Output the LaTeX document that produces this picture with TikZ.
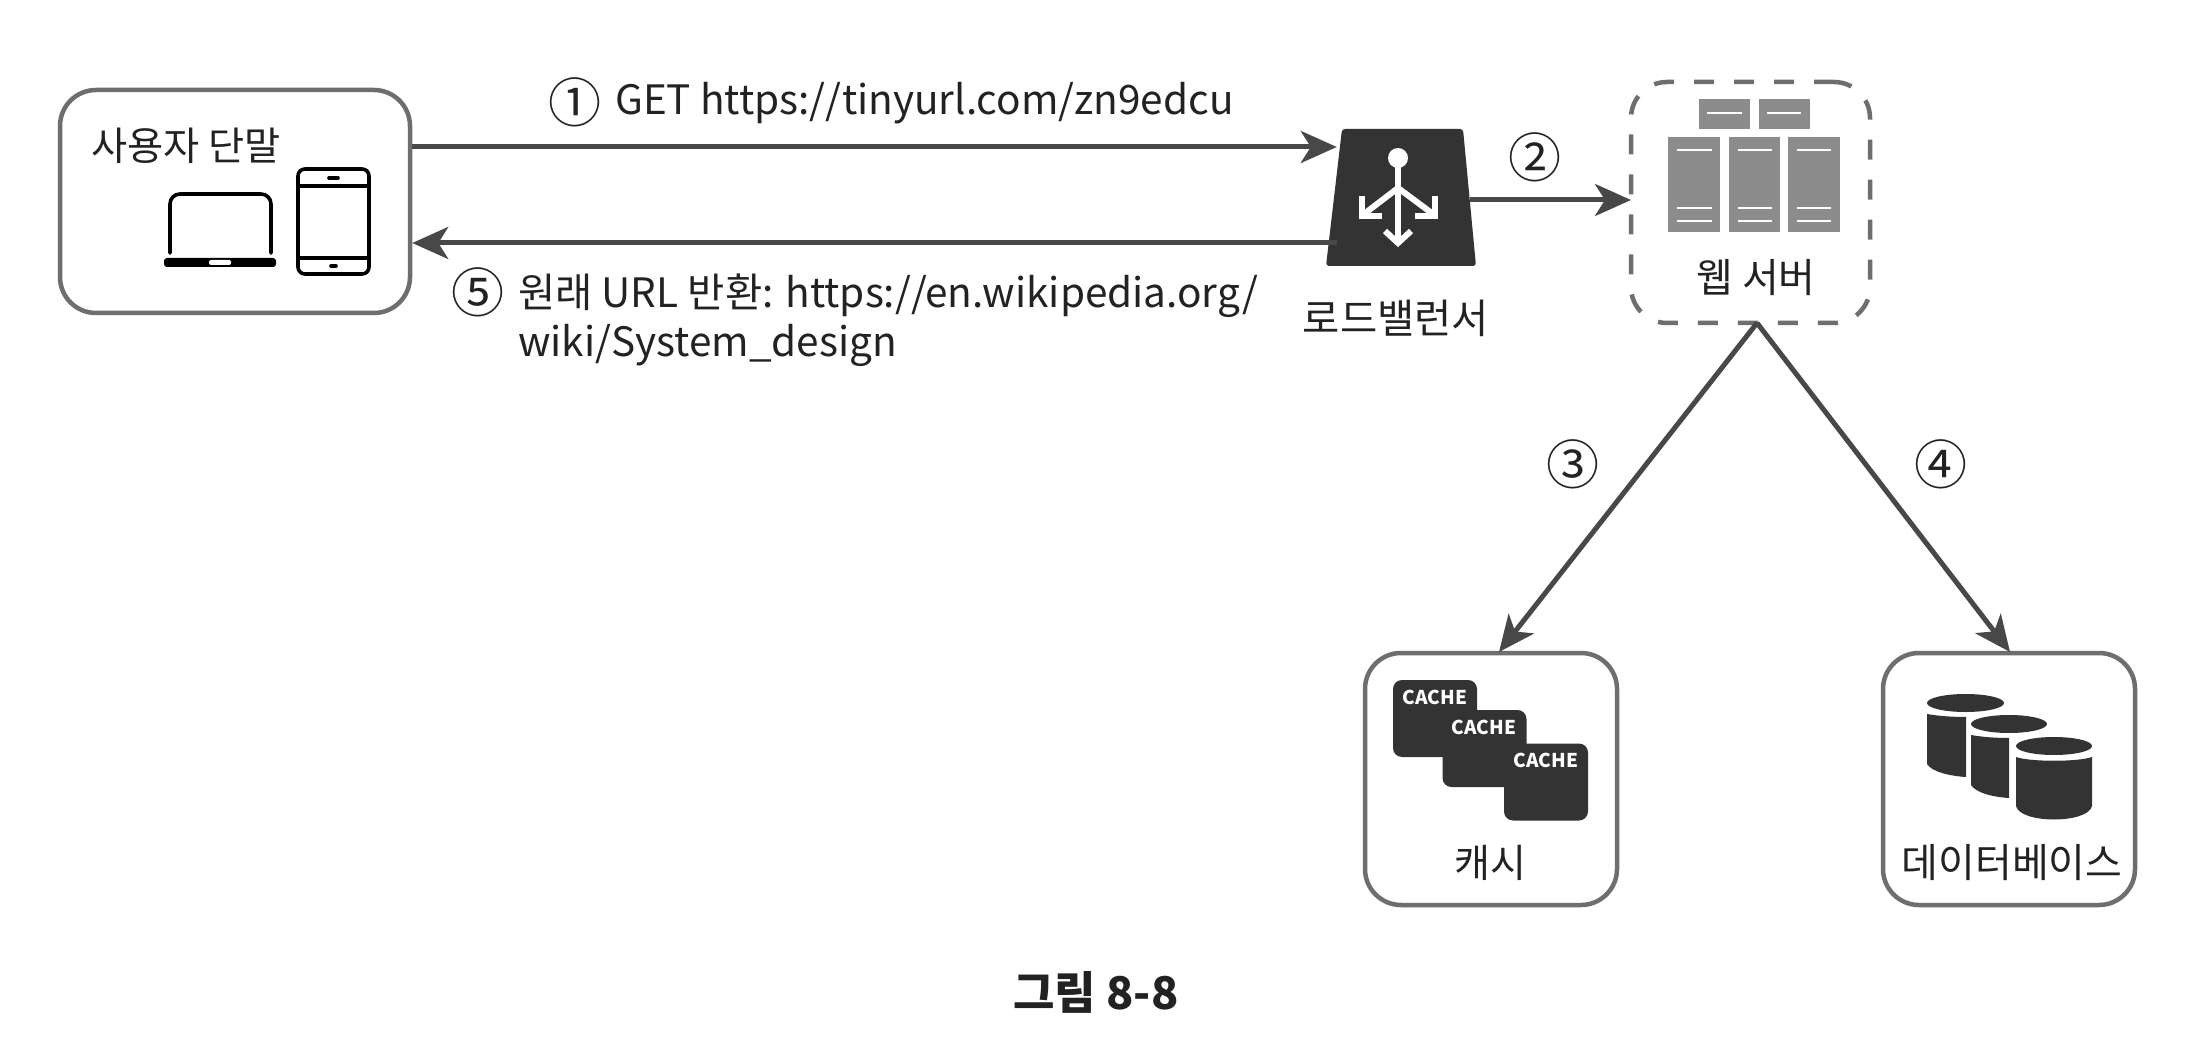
\documentclass[tikz,border=0pt]{standalone}
\usepackage{fontspec}
\setmainfont{Noto Sans CJK KR}
\usetikzlibrary{arrows.meta,calc}
\definecolor{ink}{HTML}{222222}
\definecolor{edge}{HTML}{6E6E6E}
\definecolor{wire}{HTML}{484848}
\definecolor{dark}{HTML}{333333}
\definecolor{srv}{HTML}{8C8C8C}
\tikzset{
  panel/.style={draw=edge,line width=4.5pt,rounded corners=36pt,fill=white,inner sep=0pt},
  dashpanel/.style={draw=edge,line width=4.5pt,rounded corners=36pt,dash pattern=on 20pt off 20pt,inner sep=0pt},
  wirearrow/.style={draw=wire,line width=5pt,-{Stealth[length=36pt,width=32pt,inset=10pt]}},
  lbl/.style={text=ink,font=\fontsize{40.5}{46}\selectfont,inner sep=0pt},
  num/.style={text=ink,font=\fontsize{53}{53}\selectfont,inner sep=0pt},
  cachebox/.style={fill=dark,rounded corners=9pt,minimum width=84pt,minimum height=77pt,inner sep=0pt},
  cachetxt/.style={text=white,font=\fontsize{19}{19}\selectfont\bfseries,inner sep=0pt},
  srvbox/.style={fill=srv},
  srvline/.style={draw=white,line width=2.6pt},
  iconline/.style={draw=black,line width=3.6pt,line cap=round,line join=round},
  dbfill/.style={fill=dark},
  lbglyph/.style={draw=white,line width=6pt,line join=miter}
}
\begin{document}
\begin{tikzpicture}[x=1pt,y=-1pt]
\useasboundingbox[fill=white] (0,0) rectangle (2206,1048);
% panels
\node[panel,minimum width=350pt,minimum height=223pt] (user) at (235,201.5) {};
\node[dashpanel,minimum width=239pt,minimum height=241pt] (web) at (1750.5,202.5) {};
\node[panel,minimum width=252pt,minimum height=252pt] (cache) at (1491,779) {};
\node[panel,minimum width=252pt,minimum height=252pt] (db) at (2009,779) {};
\node[inner sep=0pt,minimum width=129pt,minimum height=135pt] (lb) at (1401.5,197.5) {};
\fill[dark,rounded corners=3pt] (1342,129) -- (1463,129) -- (1476,266) -- (1326,266) -- cycle;
% connector anchors
\coordinate (outy) at (0,147);
\coordinate (backy) at (0,243);
\coordinate (apex) at (1757,323);
\coordinate (cachetop) at (1499,652);
\coordinate (dbtop) at (2010,652);
\coordinate (lbout) at (1470,200);
\coordinate (webin) at (1631,200);
\draw[wirearrow] (user.east |- outy) -- (lb.west |- outy);
\draw[wirearrow] (lb.west |- backy) -- (user.east |- backy);
\draw[wirearrow] (lbout) -- (webin);
\draw[wirearrow] (apex) -- (cachetop);
\draw[wirearrow] (apex) -- (dbtop);
% labels
\node[num] (n1) at (575,102) {①};
\node[lbl,anchor=base west] (t1) at (615,115) {GET https://tinyurl.com/zn9edcu};
\node[num] (n5) at (478,292) {⑤};
\node[lbl,anchor=base west] (t5a) at (518,308) {원래 URL 반환: https://en.wikipedia.org/};
\node[lbl,anchor=base west] (t5b) at (518,357) {wiki/System\_design};
\node[num] (n2) at (1535,157) {②};
\node[num] (n3) at (1573,464) {③};
\node[num] (n4) at (1941,464) {④};
\node[lbl,font=\fontsize{39.3}{46}\selectfont] (tuser) at (186,146) {사용자 단말};
\node[lbl] (tlb) at (1396,318) {로드밸런서};
\node[lbl,font=\fontsize{40}{46}\selectfont] (tweb) at (1756,278) {웹 서버};
\node[lbl,font=\fontsize{39}{46}\selectfont] (tcache) at (1490,863) {캐시};
\node[lbl,font=\fontsize{40}{46}\selectfont] (tdb) at (2012,863) {데이터베이스};
\node[text=ink,inner sep=0pt,font=\fontsize{45}{50}\selectfont\bfseries] (cap) at (1096,992) {그림 8-8};
% laptop
\draw[iconline] (170,253) -- (170,204) arc[start angle=180,end angle=90,radius=10pt] -- (261,194) arc[start angle=90,end angle=0,radius=10pt] -- (271,253);
\fill[black,rounded corners=3pt] (164,258) rectangle (276,267);
\fill[white,rounded corners=1.5pt] (209,260) rectangle (231,265);
% phone
\draw[iconline,rounded corners=7pt] (298,169) rectangle (369,274);
\draw[iconline] (298,186) -- (369,186) (298,258) -- (369,258);
\draw[black,line width=3.6pt,line cap=round] (329,178) -- (338,178) (331,266) -- (336,266);
% load balancer glyph
\fill[white] (1398,158) circle (10pt);
\draw[lbglyph] (1398,160) -- (1398,241);
\draw[lbglyph] (1398,188) -- (1364,214) (1398,188) -- (1433,214);
\draw[lbglyph] (1385,231) -- (1398,243) -- (1411,231);
\draw[lbglyph] (1362,196) -- (1362,216) -- (1382,216);
\draw[lbglyph] (1435,196) -- (1435,216) -- (1415,216);
% servers
\fill[srvbox] (1699,99) rectangle (1750,129);
\fill[srvbox] (1759,99) rectangle (1810,129);
\fill[srvbox] (1668,137) rectangle (1720,232);
\fill[srvbox] (1729,137) rectangle (1780,232);
\fill[srvbox] (1788,137) rectangle (1840,232);
\draw[srvline] (1707,113) -- (1742,113) (1767,113) -- (1801,113);
\foreach \a/\b in {1677/1712,1738/1772,1797/1831}{
  \draw[srvline] (\a,150) -- (\b,150) (\a,208) -- (\b,208) (\a,221) -- (\b,221);
}
% cache
\node[cachebox] (c1) at (1435,718.5) {};
\node[cachebox] (c2) at (1484.5,748.5) {};
\node[cachebox] (c3) at (1546,782) {};
\node[cachetxt] (ct1) at (1435,697) {CACHE};
\node[cachetxt] (ct2) at (1484,727) {CACHE};
\node[cachetxt] (ct3) at (1546,760) {CACHE};
% databases
\fill[dbfill] (1927,714) .. controls (1938,716) and (1952,717) .. (1966,717) -- (1966,777) .. controls (1950,776) and (1932,772) .. (1927,764) -- cycle;
\fill[dbfill] (1965.5,703) ellipse (38.5pt and 9pt);
\fill[dbfill] (1971,735) .. controls (1982,737) and (1996,738) .. (2009,738) -- (2009,798) .. controls (1993,797) and (1976,793) .. (1971,785) -- cycle;
\fill[dbfill] (2009,724) ellipse (38pt and 9pt);
\fill[dbfill] (2016,757) .. controls (2030,762) and (2078,762) .. (2092,757) -- (2092,806) .. controls (2088,824) and (2020,824) .. (2016,806) -- cycle;
\fill[dbfill] (2054,746) ellipse (38pt and 9pt);
\end{tikzpicture}
\end{document}
